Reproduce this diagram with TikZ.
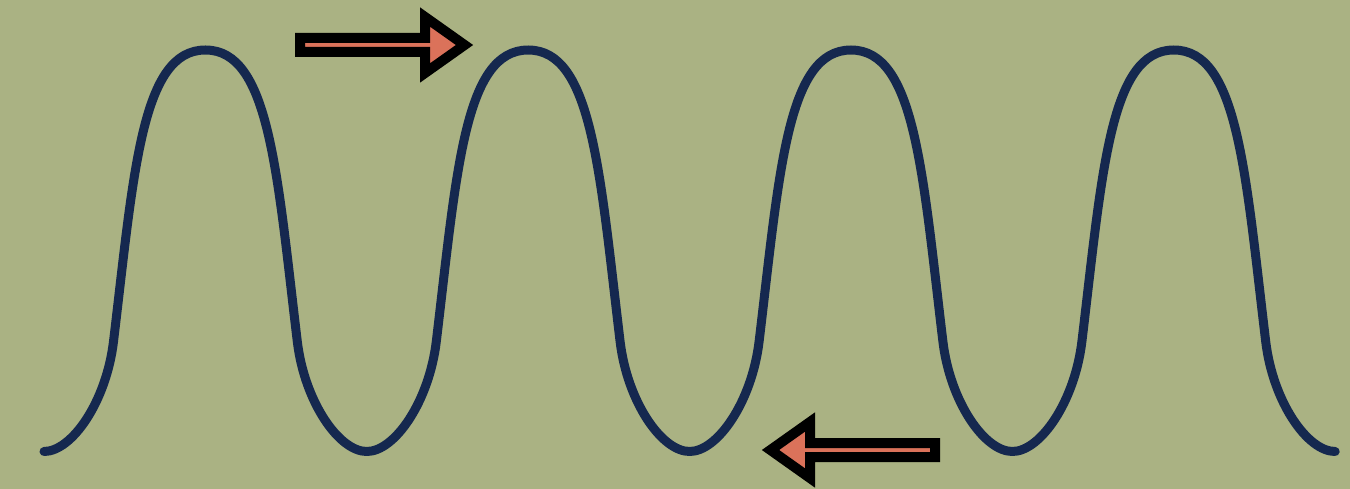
\documentclass[tikz,border=0pt]{standalone}
\definecolor{bg}{HTML}{AAB283}
\definecolor{navy}{HTML}{15284F}
\definecolor{salmon}{HTML}{DB725A}
\tikzset{
  wave/.style={draw=navy, line width=9pt, line cap=round, line join=round},
  bigarrow/.style={draw=black, fill=salmon, line width=10pt, line join=miter, miter limit=10}
}
\newcommand{\wperiod}{%
  .. controls +(28,0) and +(-7.2,60) .. ++(69.5,-110)
  .. controls +(20.4,-170) and +(-64,0) .. ++(91.9,-291.5)
  .. controls +(64,0) and +(-20.4,-170) .. ++(91.9,291.5)
  .. controls +(7.2,60) and +(-28,0) .. ++(69.5,110)}
\begin{document}
\begin{tikzpicture}[x=1pt,y=-1pt]
\useasboundingbox (0,0) rectangle (1350,489);
\fill[bg] (0,0) rectangle (1350,489);
% wave
\draw[wave] (44,451.5) \wperiod \wperiod \wperiod \wperiod;
% right-pointing arrow
\draw[bigarrow] (300,38) -- (425,38) -- (425,17) -- (464.5,45) -- (425,73) -- (425,52) -- (300,52) -- cycle;
% left-pointing arrow
\draw[bigarrow] (935,443) -- (810,443) -- (810,422) -- (770.5,450) -- (810,478) -- (810,457) -- (935,457) -- cycle;
\end{tikzpicture}
\end{document}
